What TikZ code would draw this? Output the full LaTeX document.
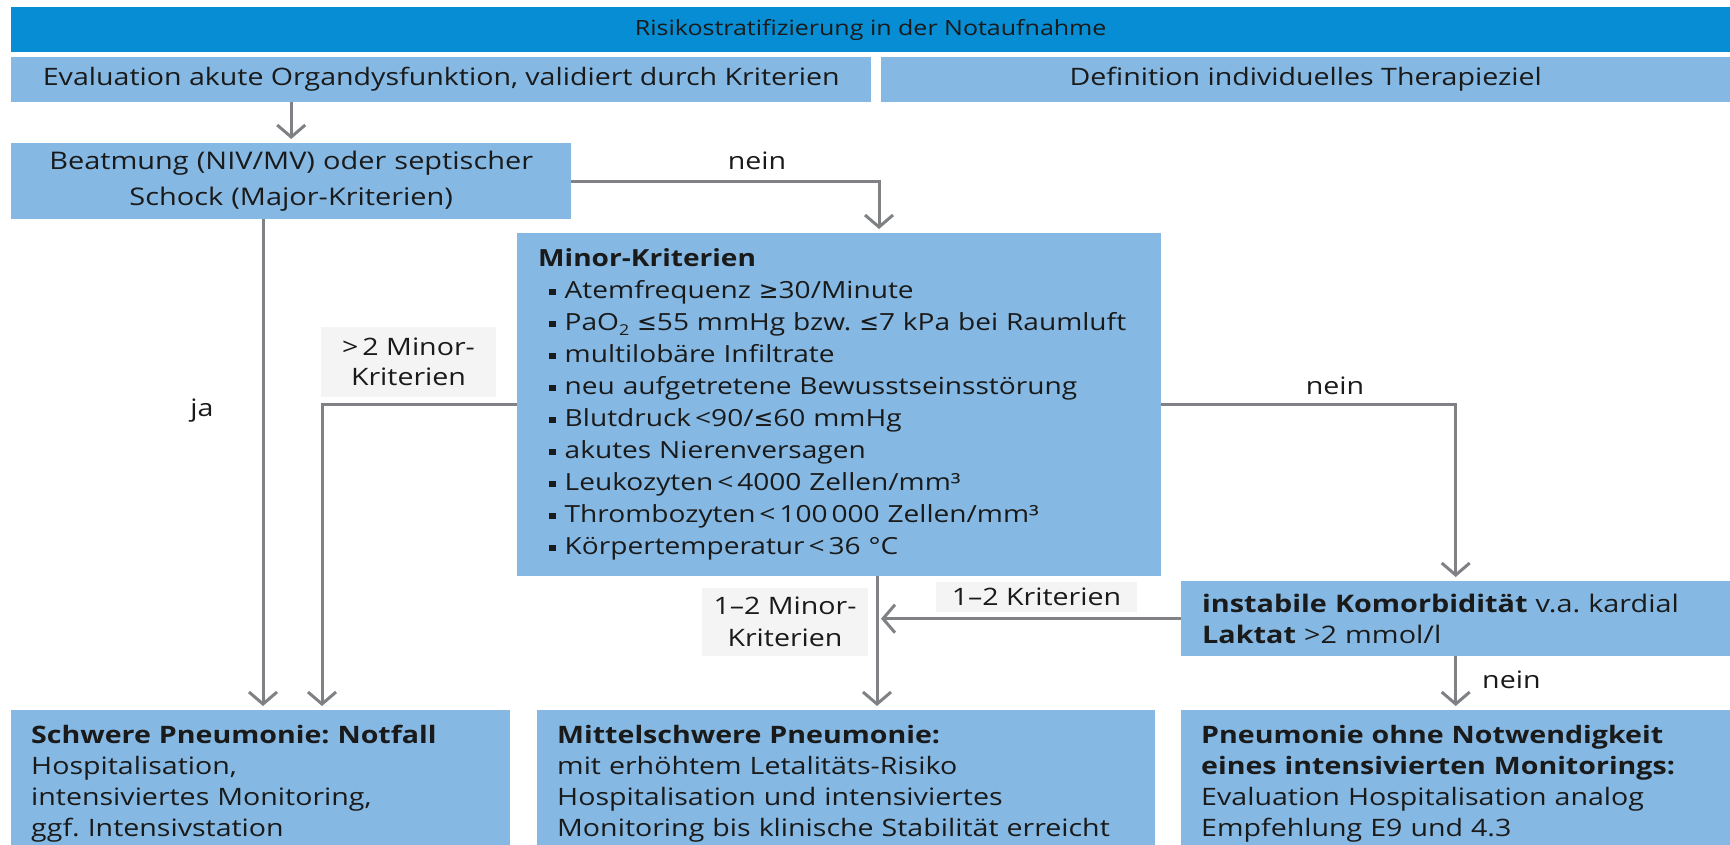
\documentclass[tikz,border=0pt]{standalone}
\usepackage{fontspec}
\setmainfont[FakeStretch=1.19]{Open Sans}
\newfontfamily\symf{DejaVu Sans}
\usetikzlibrary{arrows.meta,calc}
\definecolor{tblue}{HTML}{068DD4}
\definecolor{lblue}{HTML}{85B9E4}
\definecolor{agray}{HTML}{7F8184}
\definecolor{lgray}{HTML}{F4F4F4}
\definecolor{txt}{HTML}{1A1A1A}
\newcommand{\bul}{\hspace*{11pt}\raisebox{3.5pt}{\rule{6.5pt}{6.5pt}}\hspace{9pt}}
\newcommand{\symle}{{\symf ≤}}
\newcommand{\symge}{{\symf ≥}}
\frenchspacing
\begin{document}
\frenchspacing
\begin{tikzpicture}[x=1pt,y=-1pt,
  box/.style={fill=lblue, text=txt, inner ysep=0pt, anchor=north west},
  titlebox/.style={fill=tblue, text=txt, inner sep=0pt, anchor=north west},
  lbl/.style={fill=lgray, text=txt, inner sep=0pt, align=center},
  plain/.style={text=txt, inner sep=0pt},
  arr/.style={draw=agray, line width=3pt, -{Straight Barb[length=12pt,width=28pt]}, shorten >=4pt},
  f21/.style={font=\fontsize{21}{26}\selectfont},
  f24/.style={font=\fontsize{24}{31}\selectfont},
  f25/.style={font=\fontsize{23.6}{32}\selectfont},
  fk/.style={font=\fontsize{24.2}{31}\selectfont},
  f26/.style={font=\fontsize{24.3}{36}\selectfont}
]
\useasboundingbox (0,0) rectangle (1730,845);
\clip (0,0) rectangle (1730,845);

% top
\node[titlebox, f21, minimum width=1719pt, minimum height=45pt] (title) at (11,7) {Risikostratifizierung in der Notaufnahme};
\node[box, f24, inner xsep=0pt, minimum width=860pt, minimum height=45pt] (eval) at (11,57) {Evaluation akute Organdysfunktion, validiert durch Kriterien};
\node[box, f24, inner xsep=0pt, minimum width=849pt, minimum height=45pt] (ziel) at (881,57) {Definition individuelles Therapieziel};

% Beatmung
\node[box, f26, inner xsep=10pt, text width=540pt, align=center, minimum height=76pt] (beat) at (11,143) {Beatmung (NIV/MV) oder septischer\\Schock (Major-Kriterien)};

% Minor
\node[box, f25, inner xsep=21pt, text width=602pt, align=left, minimum height=343pt] (minor) at (517,233) {%
\textbf{Minor-Kriterien}\\
\bul Atemfrequenz \symge30/Minute\\
\bul PaO\raisebox{-5pt}{\fontsize{15}{15}\selectfont 2} \symle55 mmHg bzw. \symle7 kPa bei Raumluft\\
\bul multilobäre Infiltrate\\
\bul neu aufgetretene Bewusstseinsstörung\\
\bul Blutdruck\,<90/\symle60 mmHg\\
\bul akutes Nierenversagen\\
\bul Leukozyten\,<\,4000 Zellen/mm³\\
\bul Thrombozyten\,<\,100\,000 Zellen/mm³\\
\bul Körpertemperatur\,<\,36 °C};

% Komorbiditaet
\node[box, fk, inner xsep=21pt, text width=507pt, align=left, minimum height=75pt] (komorb) at (1181,581) {%
\textbf{instabile Komorbidität} v.a. kardial\\\textbf{Laktat} >2 mmol/l};

% bottom boxes
\node[box, f24, inner xsep=20pt, text width=459pt, align=left, minimum height=147pt] (b1) at (11,710) {%
\textbf{Schwere Pneumonie: Notfall}\\Hospitalisation,\\intensiviertes Monitoring,\\ggf. Intensivstation};
\node[box, f24, inner xsep=20pt, text width=578pt, align=left, minimum height=147pt] (b2) at (537,710) {%
\textbf{Mittelschwere Pneumonie:}\\mit erhöhtem Letalitäts-Risiko\\Hospitalisation und intensiviertes\\Monitoring bis klinische Stabilität erreicht};
\node[box, f24, inner xsep=20pt, text width=509pt, align=left, minimum height=147pt] (b3) at (1181,710) {%
\textbf{Pneumonie ohne Notwendigkeit}\\\textbf{eines intensivierten Monitorings:}\\Evaluation Hospitalisation analog\\Empfehlung E9 und 4.3};

% coordinates
\coordinate (minIn) at (879,233);
\coordinate (jaX) at (263,0);
\coordinate (gtX) at (322,0);
\coordinate (midX) at (877,0);

% connectors
\draw[arr] (beat.north |- eval.south) -- (beat.north);
\draw[arr] (beat.east) -| (minIn);
\draw[arr] (beat.south -| jaX) -- (b1.north -| jaX);
\draw[arr] (minor.west) -| (b1.north -| gtX);
\draw[arr] (minor.south -| midX) -- (b2.north -| midX);
\draw[arr] (minor.east) -| (komorb.north);
\draw[arr] (komorb.west) -- (komorb.west -| midX);
\draw[arr] (komorb.south) -- (b3.north);

% labels
\node[plain, f24] (nein1) at (757,161) {nein};
\node[plain, f24] (ja) at (202,411) {ja};
\node[plain, f24] (nein2) at (1335,386) {nein};
\node[plain, f24, anchor=west] (nein3) at (1482,680) {nein};
\node[lbl, minimum width=175pt, minimum height=70pt, font=\fontsize{24}{30}\selectfont] (gt2) at (408.5,362) {>\,2 Minor-\\Kriterien};
\node[lbl, minimum width=166pt, minimum height=68pt, font=\fontsize{24}{32}\selectfont] (m12) at (785,622) {1–2 Minor-\\Kriterien};
\node[lbl, f24, minimum width=201pt, minimum height=30pt] (k12) at (1036.5,597) {1–2 Kriterien};
\end{tikzpicture}
\end{document}
